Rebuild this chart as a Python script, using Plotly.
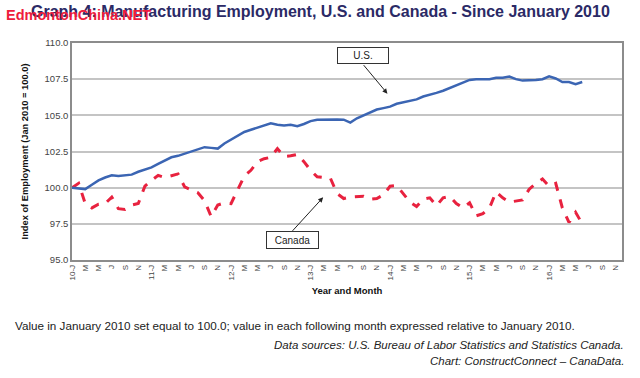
import plotly.graph_objects as go

# Month index 0 = Jan 2010
us_values = [100.0, 99.95, 99.9, 100.2, 100.5, 100.7, 100.85, 100.8, 100.85, 100.9,
             101.1, 101.25, 101.4, 101.65, 101.85, 102.1, 102.2, 102.35, 102.55, 102.7,
             102.8, 102.75, 102.7, 103.05, 103.3, 103.6, 103.85, 104.0, 104.15, 104.25,
             104.45, 104.35, 104.3, 104.35, 104.25, 104.4, 104.6, 104.7, 104.72, 104.7,
             104.72, 104.7, 104.5, 104.8, 105.0, 105.2, 105.4, 105.5, 105.6, 105.8,
             105.9, 106.0, 106.1, 106.3, 106.4, 106.55, 106.7, 106.9, 107.1, 107.3,
             107.45, 107.5, 107.5, 107.5, 107.6, 107.6, 107.68, 107.5, 107.4, 107.4,
             107.45, 107.5, 107.7, 107.55, 107.3, 107.3, 107.15, 107.3]
canada_values = [100.0, 100.3, 98.9, 98.6, 98.85, 98.9, 99.35, 98.55, 98.5, 98.8,
                 98.9, 100.1, 100.5, 100.85, 100.7, 100.8, 100.95, 100.05, 99.85, 99.65,
                 99.1, 98.0, 98.8, 98.95, 98.9, 99.9, 100.8, 101.2, 101.8, 102.0,
                 102.1, 102.7, 102.15, 102.2, 102.3, 101.8, 101.2, 100.75, 100.7, 100.65,
                 99.6, 99.25, 99.35, 99.4, 99.4, 99.2, 99.25, 99.5, 100.1, 100.15,
                 99.6, 99.0, 98.7, 99.2, 99.3, 98.75, 99.3, 99.4, 98.9, 98.6,
                 98.95, 98.05, 98.2, 98.6, 99.7, 99.3, 99.0, 99.1, 99.15, 99.9,
                 100.3, 100.6, 100.1, 100.3, 98.6, 97.6, 98.3, 97.5]
months = list(range(len(us_values)))

years = ["10", "11", "12", "13", "14", "15", "16"]
month_letters = ["J", "M", "M", "J", "S", "N"]
tick_vals = list(range(0, 84, 2))
tick_text = []
for y in years:
    for i, ml in enumerate(month_letters):
        tick_text.append(f"{y}-{ml}" if i == 0 else ml)

y_ticks = [95.0, 97.5, 100.0, 102.5, 105.0, 107.5, 110.0]

fig = go.Figure()
fig.add_trace(go.Scatter(x=months, y=canada_values, mode="lines", name="Canada",
                         line=dict(color="#e8223f", width=3, dash="dash")))
fig.add_trace(go.Scatter(x=months, y=us_values, mode="lines", name="U.S.",
                         line=dict(color="#3b65b3", width=2.5)))

fig.update_layout(
    width=640, height=378,
    margin=dict(l=72, r=18, t=43, b=118, autoexpand=False),
    paper_bgcolor="white", plot_bgcolor="white",
    showlegend=False,
    font=dict(family="Liberation Sans, Arial, sans-serif", color="#333333"),
)
fig.update_xaxes(
    range=[0, 83], tickmode="array", tickvals=tick_vals, ticktext=tick_text,
    tickangle=-90, tickfont=dict(size=8, color="#444444"),
    showgrid=False, zeroline=False,
    showline=True, linecolor="#8c8c8c", linewidth=1.5, mirror=True,
    ticks="", ticklen=0, automargin=False,
    title=dict(text="<b>Year and Month</b>", font=dict(size=9.5, color="#111111"), standoff=8),
)
fig.update_yaxes(
    range=[95, 110], tickmode="array", tickvals=y_ticks,
    ticktext=[f"{v:.1f}" for v in y_ticks],
    tickfont=dict(size=9.5, color="#444444"),
    showgrid=True, gridcolor="#c4c4c4", gridwidth=1.5, zeroline=False,
    showline=True, linecolor="#8c8c8c", linewidth=1.5, mirror=True,
    ticks="", ticklen=0, automargin=False,
    title=dict(text="<b>Index of Employment (Jan 2010 = 100.0)</b>",
               font=dict(size=9.3, color="#111111"), standoff=14),
)

# Title
fig.add_annotation(xref="paper", yref="paper", x=(320 - 72) / 550, y=1, yshift=42, xanchor="center", yanchor="top",
                   text="<b>Graph 4: Manufacturing Employment, U.S. and Canada - Since January 2010</b>",
                   showarrow=False, font=dict(size=16, color="#2b2a66",
                                              family="Liberation Sans, Arial, sans-serif"))
# Watermark
fig.add_annotation(xref="paper", yref="paper", x=(4 - 72) / 550, y=1, yshift=38, xanchor="left", yanchor="top",
                   text="<b>EdmontonChina.NET</b>", showarrow=False,
                   font=dict(size=14.5, color="#ee1c3c",
                             family="Liberation Sans Narrow, Arial Narrow, Liberation Sans, sans-serif"))

# Label boxes with arrows
fig.add_annotation(x=47.6, y=106.5, ax=-25, ay=-30, showarrow=True, arrowhead=2, arrowsize=1,
                   arrowwidth=1, arrowcolor="#222222", text="")
fig.add_annotation(x=43.9, y=109.15, text="U.S.", showarrow=False, width=48, height=13,
                   bordercolor="#333333", borderwidth=1, bgcolor="white",
                   font=dict(size=10, color="#222222"))
fig.add_annotation(x=37.9, y=99.33, ax=-32, ay=35, showarrow=True, arrowhead=2, arrowsize=1,
                   arrowwidth=1, arrowcolor="#222222", text="")
fig.add_annotation(x=33.2, y=96.37, text="Canada", showarrow=False, width=49, height=14,
                   bordercolor="#333333", borderwidth=1, bgcolor="white",
                   font=dict(size=10, color="#222222"))

# Footer
fig.add_annotation(xref="paper", yref="paper", x=(13 - 72) / 550, y=0, yshift=-57, xanchor="left", yanchor="top",
                   text="Value in January 2010 set equal to 100.0; value in each following month expressed relative to January 2010.",
                   showarrow=False, font=dict(size=11.7, color="#222222"))
fig.add_annotation(xref="paper", yref="paper", x=(626 - 72) / 550, y=0, yshift=-77, xanchor="right", yanchor="top",
                   text="<i>Data sources: U.S. Bureau of Labor Statistics and Statistics Canada.</i>",
                   showarrow=False, font=dict(size=11.5, color="#222222"))
fig.add_annotation(xref="paper", yref="paper", x=(626 - 72) / 550, y=0, yshift=-93, xanchor="right", yanchor="top",
                   text="<i>Chart: ConstructConnect – CanaData.</i>",
                   showarrow=False, font=dict(size=11.5, color="#222222"))

fig.write_html("out.html", config={"displayModeBar": False},
               post_script="document.body.style.margin='0';document.body.style.padding='0';")
